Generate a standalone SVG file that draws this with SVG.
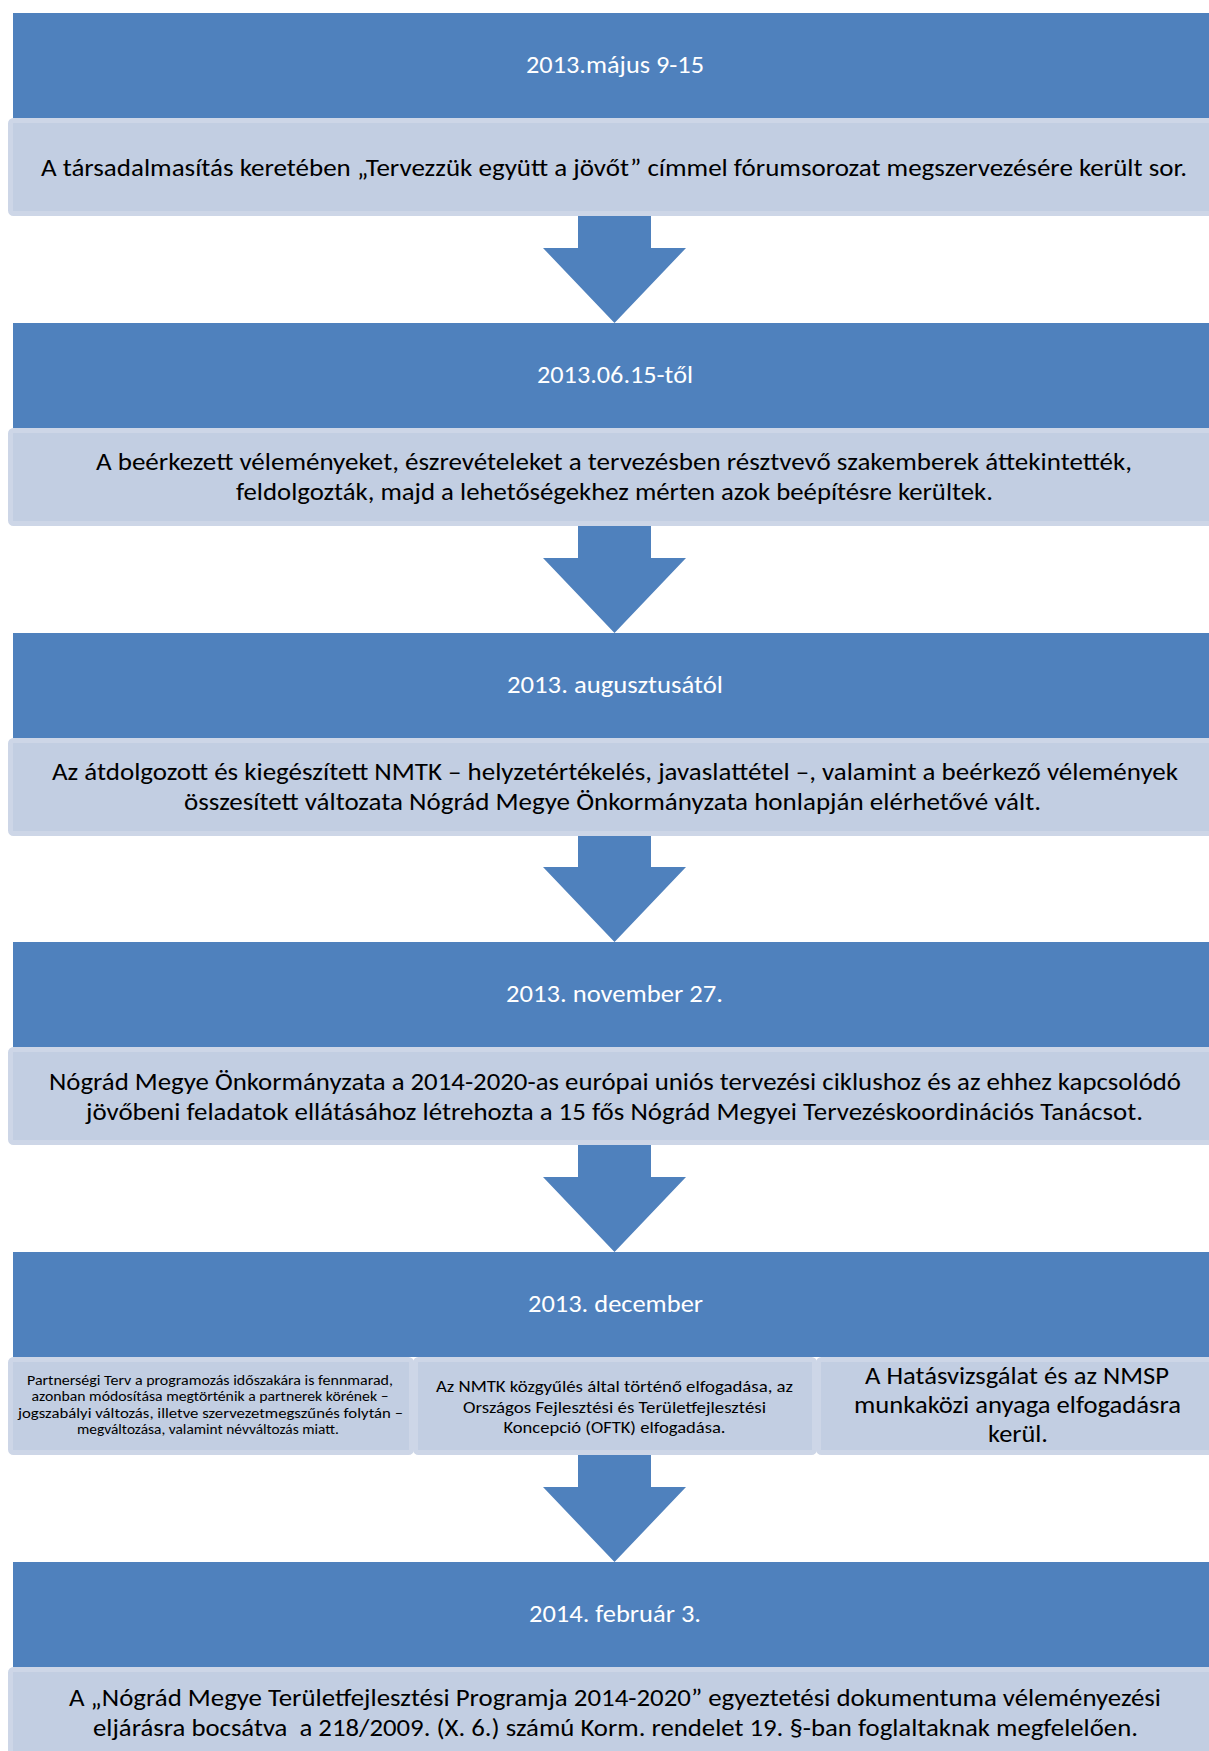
<svg xmlns="http://www.w3.org/2000/svg" width="1209" height="1751" viewBox="0 0 1209 1751">
<defs>
<style>
.hdr{fill:#4F81BD;}
.det{fill:#C2CEE2;stroke:#CDD6E7;stroke-width:5;}
.arr{fill:#4F81BD;}
text{font-family:Carlito,Lato,"Liberation Sans",sans-serif;text-anchor:middle;}
.ht{fill:#FFFFFF;font-size:24px;}
.dt{fill:#000000;font-size:24px;}
.s1{fill:#000000;font-size:13.3px;}
.s2{fill:#000000;font-size:17px;}
.s3{fill:#000000;font-size:24px;}
</style>
</defs>
<rect width="1209" height="1751" fill="#FFFFFF"/>

<g id="step1-date">
<rect class="hdr" x="13" y="13" width="1210" height="105"/>
<text class="ht" x="615" y="73" textLength="178" lengthAdjust="spacingAndGlyphs">2013.május 9-15</text>
</g>
<g id="step1-text">
<rect class="det" x="10.5" y="120.5" width="1215" height="93" rx="3"/>
<text class="dt" x="614" y="176" textLength="1146" lengthAdjust="spacingAndGlyphs">A társadalmasítás keretében „Tervezzük együtt a jövőt” címmel fórumsorozat megszervezésére került sor.</text>
</g>

<g id="step2-date">
<rect class="hdr" x="13" y="323" width="1210" height="105"/>
<text class="ht" x="615" y="383" textLength="156" lengthAdjust="spacingAndGlyphs">2013.06.15-től</text>
</g>
<g id="step2-text">
<rect class="det" x="10.5" y="430.5" width="1215" height="93" rx="3"/>
<text class="dt" x="614" y="469.5" textLength="1036" lengthAdjust="spacingAndGlyphs">A beérkezett véleményeket, észrevételeket a tervezésben résztvevő szakemberek áttekintették,</text>
<text class="dt" x="614.5" y="499.5" textLength="757" lengthAdjust="spacingAndGlyphs">feldolgozták, majd a lehetőségekhez mérten azok beépítésre kerültek.</text>
</g>

<g id="step3-date">
<rect class="hdr" x="13" y="633" width="1210" height="105"/>
<text class="ht" x="615" y="693" textLength="216" lengthAdjust="spacingAndGlyphs">2013. augusztusától</text>
</g>
<g id="step3-text">
<rect class="det" x="10.5" y="740.5" width="1215" height="93" rx="3"/>
<text class="dt" x="615" y="780" textLength="1126" lengthAdjust="spacingAndGlyphs">Az átdolgozott és kiegészített NMTK – helyzetértékelés, javaslattétel –, valamint a beérkező vélemények</text>
<text class="dt" x="612.5" y="810" textLength="857" lengthAdjust="spacingAndGlyphs">összesített változata Nógrád Megye Önkormányzata honlapján elérhetővé vált.</text>
</g>

<g id="step4-date">
<rect class="hdr" x="13" y="942" width="1210" height="105"/>
<text class="ht" x="614.5" y="1002" textLength="217" lengthAdjust="spacingAndGlyphs">2013. november 27.</text>
</g>
<g id="step4-text">
<rect class="det" x="10.5" y="1049.5" width="1215" height="93" rx="3"/>
<text class="dt" x="615" y="1090" textLength="1132" lengthAdjust="spacingAndGlyphs">Nógrád Megye Önkormányzata a 2014-2020-as európai uniós tervezési ciklushoz és az ehhez kapcsolódó</text>
<text class="dt" x="614.5" y="1120" textLength="1057" lengthAdjust="spacingAndGlyphs">jövőbeni feladatok ellátásához létrehozta a 15 fős Nógrád Megyei Tervezéskoordinációs Tanácsot.</text>
</g>

<g id="step5-date">
<rect class="hdr" x="13" y="1252" width="1210" height="105"/>
<text class="ht" x="615.5" y="1312" textLength="175" lengthAdjust="spacingAndGlyphs">2013. december</text>
</g>
<g id="step5-text-a">
<rect class="det" x="10.5" y="1359.5" width="401" height="93" rx="3"/>
<text class="s1" x="210" y="1385" textLength="366" lengthAdjust="spacingAndGlyphs">Partnerségi Terv a programozás időszakára is fennmarad,</text>
<text class="s1" x="210" y="1401" textLength="357" lengthAdjust="spacingAndGlyphs">azonban módosítása megtörténik a partnerek körének –</text>
<text class="s1" x="210.5" y="1417.5" textLength="385" lengthAdjust="spacingAndGlyphs">jogszabályi változás, illetve szervezetmegszűnés folytán –</text>
<text class="s1" x="208" y="1433.5" textLength="262" lengthAdjust="spacingAndGlyphs">megváltozása, valamint névváltozás miatt.</text>
</g>
<g id="step5-text-b">
<rect class="det" x="415.5" y="1359.5" width="399" height="93" rx="3"/>
<text class="s2" x="614.5" y="1392" textLength="357" lengthAdjust="spacingAndGlyphs">Az NMTK közgyűlés által történő elfogadása, az</text>
<text class="s2" x="614.5" y="1413" textLength="303" lengthAdjust="spacingAndGlyphs">Országos Fejlesztési és Területfejlesztési</text>
<text class="s2" x="614.5" y="1433" textLength="222" lengthAdjust="spacingAndGlyphs">Koncepció (OFTK) elfogadása.</text>
</g>
<g id="step5-text-c">
<rect class="det" x="818.5" y="1359.5" width="405" height="93" rx="3"/>
<text class="s3" x="1017" y="1384" textLength="304" lengthAdjust="spacingAndGlyphs">A Hatásvizsgálat és az NMSP</text>
<text class="s3" x="1017.5" y="1413" textLength="327" lengthAdjust="spacingAndGlyphs">munkaközi anyaga elfogadásra</text>
<text class="s3" x="1018" y="1442" textLength="60" lengthAdjust="spacingAndGlyphs">kerül.</text>
</g>

<g id="step6-date">
<rect class="hdr" x="13" y="1562" width="1210" height="105"/>
<text class="ht" x="615" y="1622" textLength="172" lengthAdjust="spacingAndGlyphs">2014. február 3.</text>
</g>
<g id="step6-text">
<rect class="det" x="10.5" y="1669.5" width="1215" height="93" rx="3"/>
<text class="dt" x="615" y="1706" textLength="1092" lengthAdjust="spacingAndGlyphs">A „Nógrád Megye Területfejlesztési Programja 2014-2020” egyeztetési dokumentuma véleményezési</text>
<text class="dt" x="615.5" y="1736" textLength="1045" lengthAdjust="spacingAndGlyphs" xml:space="preserve">eljárásra bocsátva  a 218/2009. (X. 6.) számú Korm. rendelet 19. §-ban foglaltaknak megfelelően.</text>
</g>

<g id="connectors">
<polygon class="arr" points="578,216 651,216 651,248 686,248 614.5,323 543,248 578,248"/>
<polygon class="arr" points="578,526 651,526 651,558 686,558 614.5,633 543,558 578,558"/>
<polygon class="arr" points="578,836 651,836 651,867 686,867 614.5,942 543,867 578,867"/>
<polygon class="arr" points="578,1145 651,1145 651,1177 686,1177 614.5,1252 543,1177 578,1177"/>
<polygon class="arr" points="578,1455 651,1455 651,1487 686,1487 614.5,1562 543,1487 578,1487"/>
</g>
</svg>
